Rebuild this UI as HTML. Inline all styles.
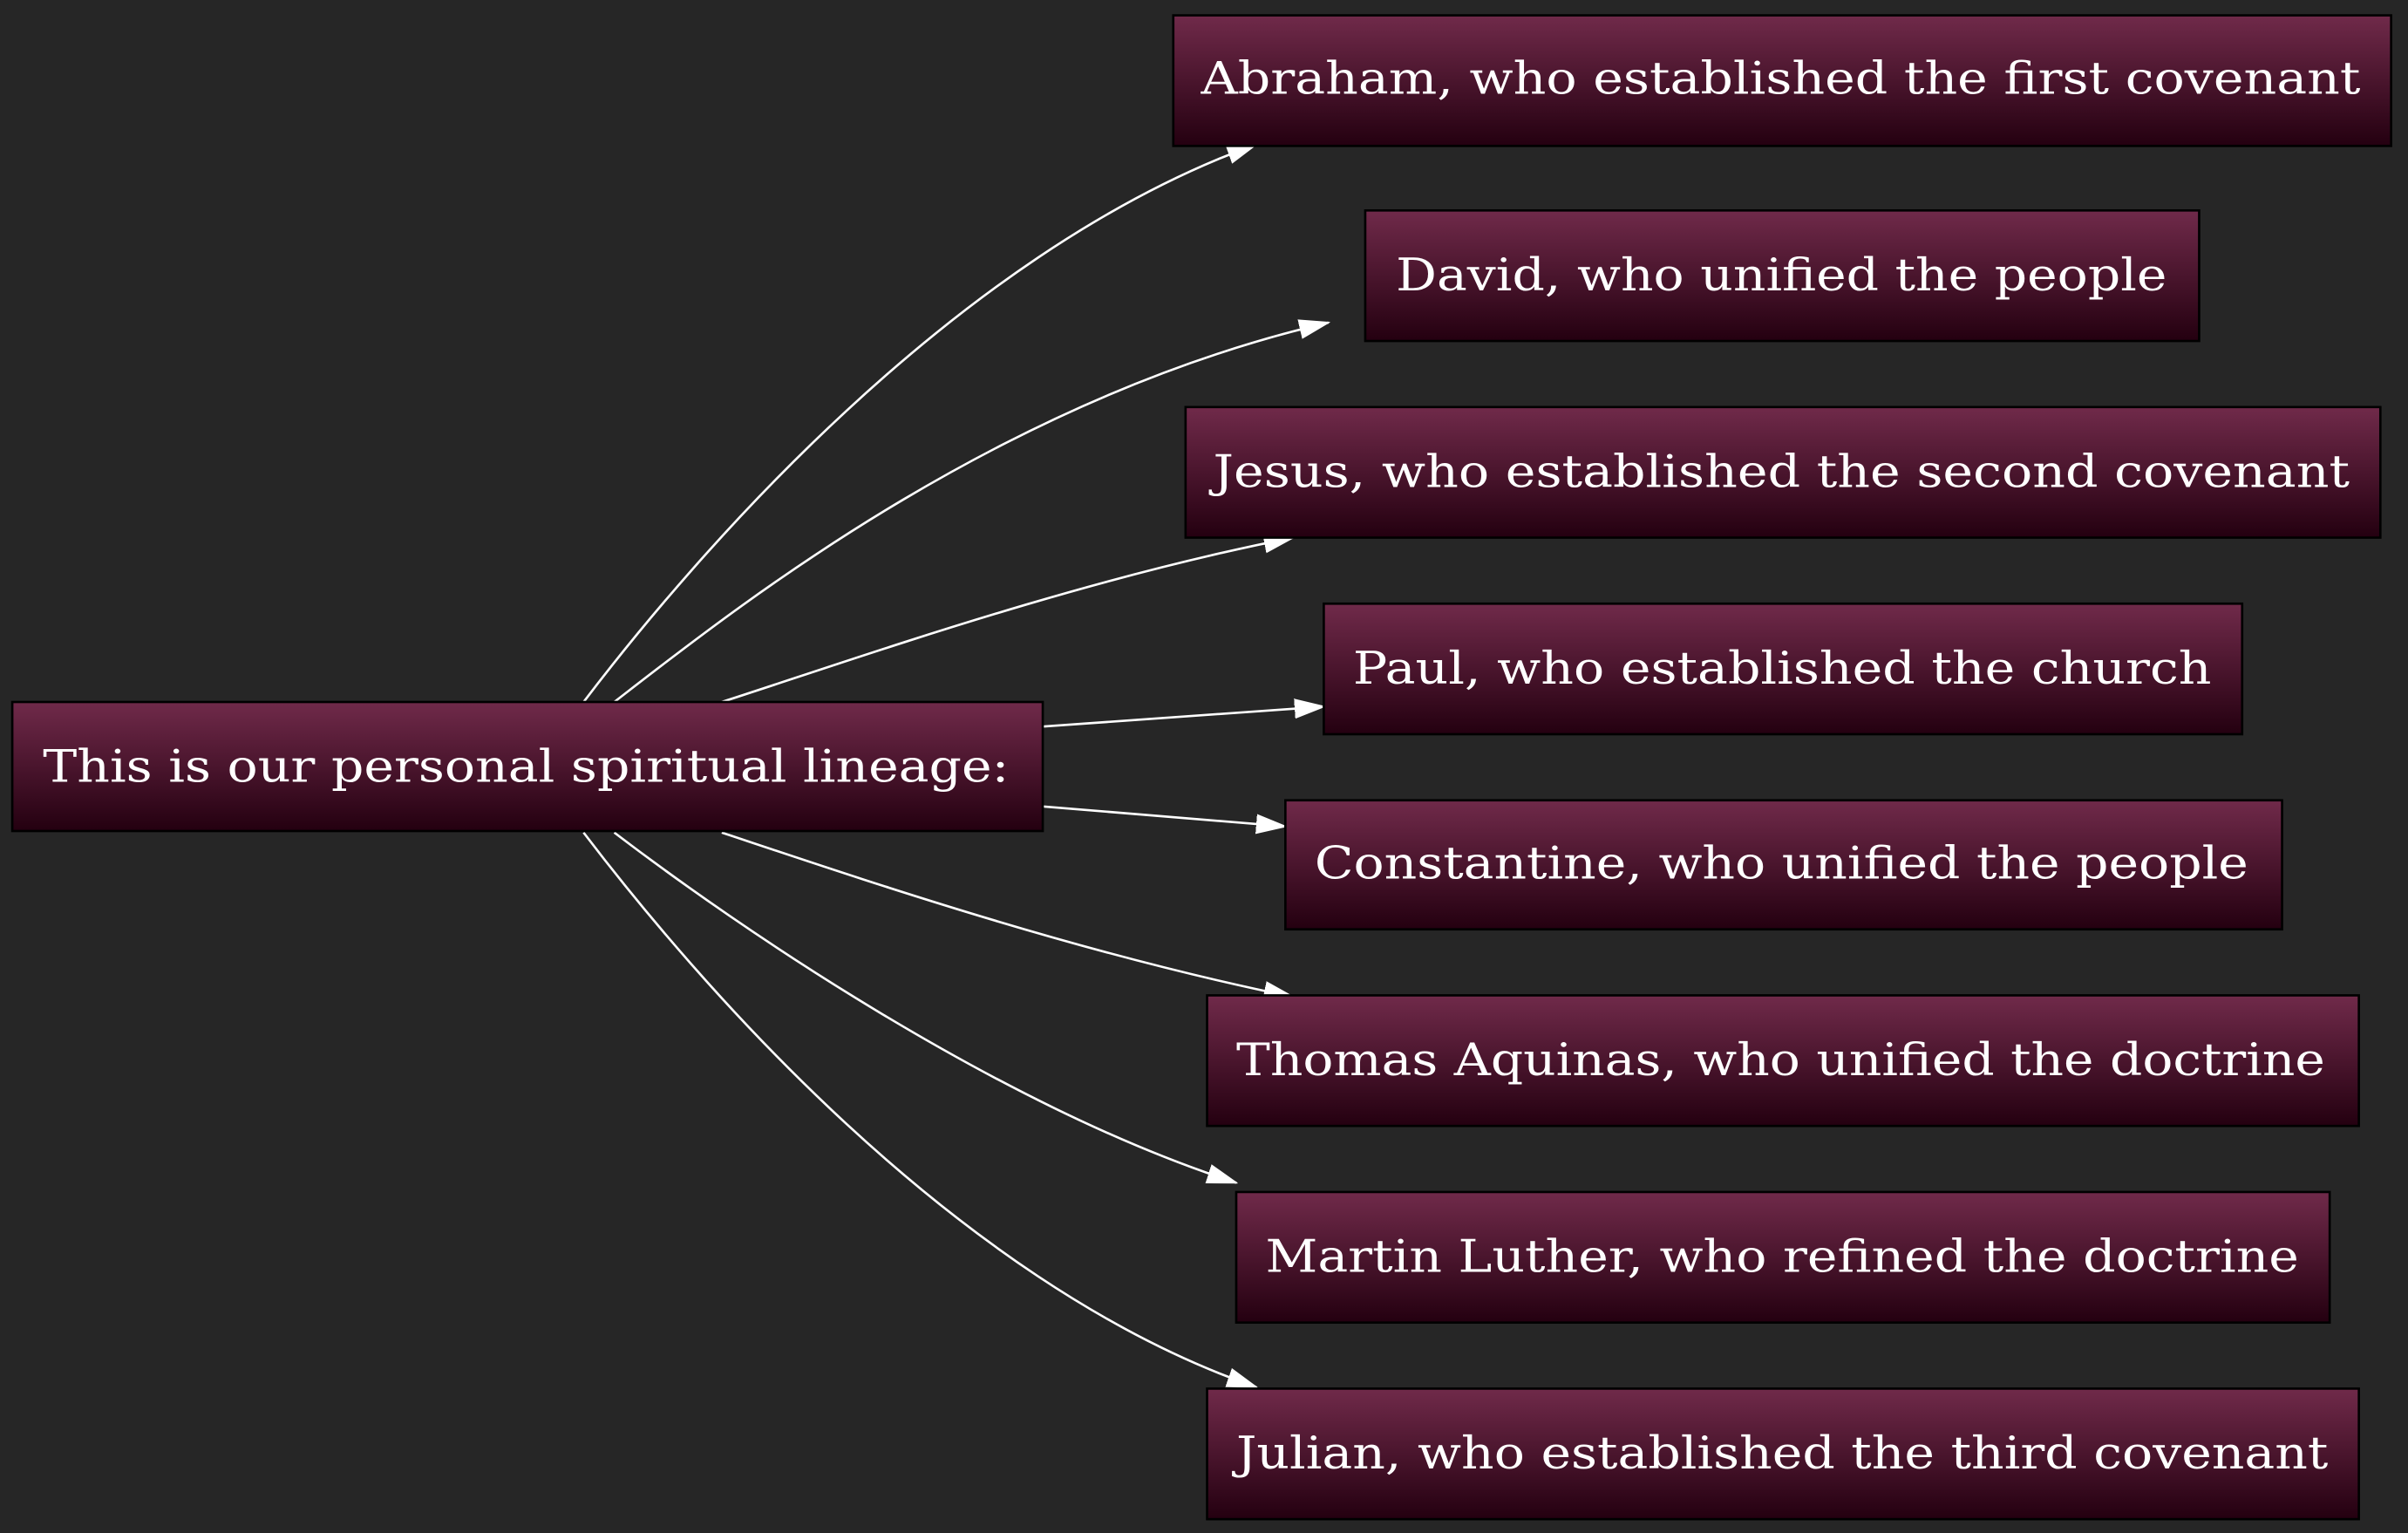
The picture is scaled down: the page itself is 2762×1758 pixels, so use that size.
<!DOCTYPE html>
<html><head><style>html,body{margin:0;padding:0;background:#262626;}svg{display:block}</style></head>
<body>
<svg width="2762" height="1758" viewBox="0 0 1568 998" xmlns="http://www.w3.org/2000/svg" preserveAspectRatio="none">
<defs>
<linearGradient id="g" x1="0" y1="0" x2="0" y2="1">
<stop offset="0" stop-color="#702a4a"/><stop offset="1" stop-color="#240010"/>
</linearGradient>
<marker id="a" markerWidth="20" markerHeight="14" refX="19" refY="7" orient="auto" markerUnits="userSpaceOnUse">
<path d="M0,1 L19,7 L0,13 Z" fill="#fff" stroke="#fff"/>
</marker>
</defs>
<rect width="1568" height="998" fill="#262626"/>
<g fill="none" stroke="#fff" stroke-width="1.5" marker-end="url(#a)">
<path d="M380,457 C450,365 620,165 818,94"/>
<path d="M400,457 C480,395 650,260 865,210"/>
<path d="M470,457 C560,428 700,378 842,350"/>
<path d="M679,473 L862,460"/>
<path d="M679,525 L837,538"/>
<path d="M470,542 C560,572 700,620 842,649"/>
<path d="M400,542 C480,603 650,720 805,770"/>
<path d="M380,542 C450,634 620,835 818,903"/>
</g>
<g stroke="#000" stroke-width="1.5" fill="url(#g)">
<rect x="8" y="457" width="671" height="84"/>
<rect x="764" y="10" width="793" height="85"/>
<rect x="889" y="137" width="543" height="85"/>
<rect x="772" y="265" width="778" height="85"/>
<rect x="862" y="393" width="598" height="85"/>
<rect x="837" y="521" width="649" height="84"/>
<rect x="786" y="648" width="750" height="85"/>
<rect x="805" y="776" width="712" height="85"/>
<rect x="786" y="904" width="750" height="85"/>
</g>
<g fill="#fff" font-family="'DejaVu Serif','Liberation Serif',serif" font-size="29">
<text x="28" y="509" textLength="629" lengthAdjust="spacingAndGlyphs">This is our personal spiritual lineage:</text>
<text x="782" y="61" textLength="755" lengthAdjust="spacingAndGlyphs">Abraham, who established the first covenant</text>
<text x="909" y="189" textLength="502" lengthAdjust="spacingAndGlyphs">David, who unified the people</text>
<text x="790" y="317" textLength="740" lengthAdjust="spacingAndGlyphs">Jesus, who established the second covenant</text>
<text x="881" y="445" textLength="559" lengthAdjust="spacingAndGlyphs">Paul, who established the church</text>
<text x="856" y="572" textLength="608" lengthAdjust="spacingAndGlyphs">Constantine, who unified the people</text>
<text x="805" y="700" textLength="709" lengthAdjust="spacingAndGlyphs">Thomas Aquinas, who unified the doctrine</text>
<text x="824" y="828" textLength="673" lengthAdjust="spacingAndGlyphs">Martin Luther, who refined the doctrine</text>
<text x="805" y="956" textLength="711" lengthAdjust="spacingAndGlyphs">Julian, who established the third covenant</text>
</g>
</svg>
</body></html>
